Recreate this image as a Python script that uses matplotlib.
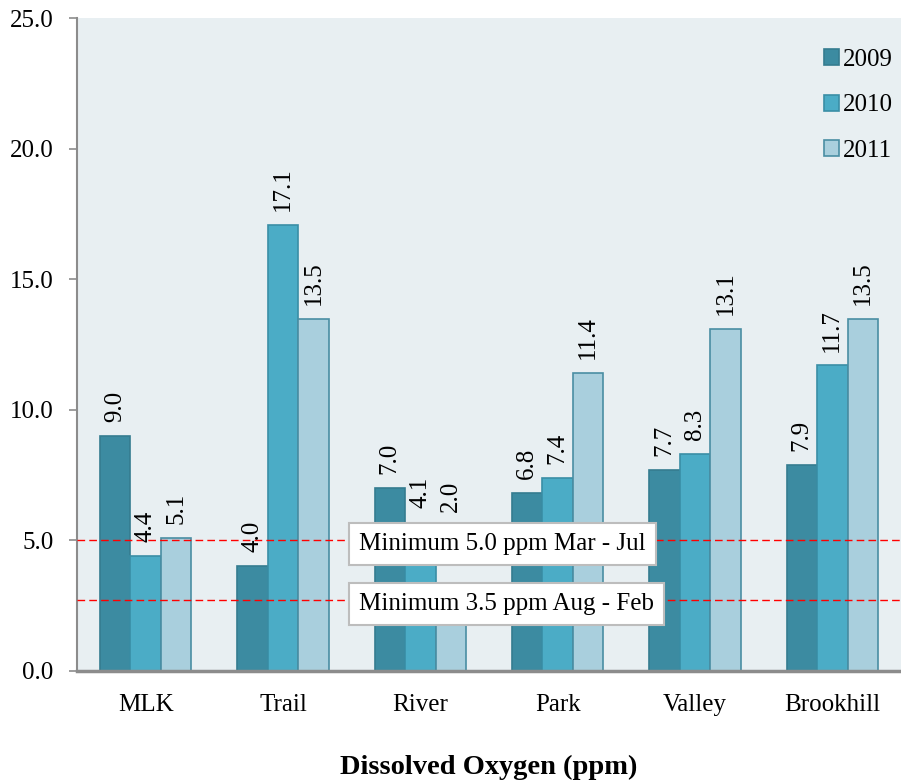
import numpy as np
import matplotlib
matplotlib.use("Agg")
import matplotlib.pyplot as plt

plt.rcParams['font.family'] = ['Liberation Serif', 'DejaVu Serif']

# data
sites = ['MLK', 'Trail', 'River', 'Park', 'Valley', 'Brookhill']
years = ['2009', '2010', '2011']
do_2009 = [9.0, 4.0, 7.0, 6.8, 7.7, 7.9]
do_2010 = [4.4, 17.1, 4.1, 7.4, 8.3, 11.7]
do_2011 = [5.1, 13.5, 2.0, 11.4, 13.1, 13.5]
series = [do_2009, do_2010, do_2011]

# reference lines as drawn, and their box texts
line_levels = [5.0, 2.7]
line_notes = ['Minimum 5.0 ppm Mar - Jul', 'Minimum 3.5 ppm Aug - Feb']

# styling / layout
face = ['#3C8BA1', '#4BACC6', '#A9CFDD']
edge = ['#357C90', '#3A8EA6', '#4A8EA3']
bg = '#E8EFF2'
spine_col = '#8C8C8C'
bar_w = 0.222
note_pos = [(2.598, 4.875), (2.627, 2.576)]
# labels lifted above the note boxes (site index, series index) -> y
lifted = {(2, 1): 6.25, (2, 2): 6.1}

fig = plt.figure(figsize=(9.01, 7.83), dpi=100)
ax = fig.add_axes([0.0855, 0.1434, 0.9145, 0.833])
ax.set_facecolor(bg)

x = np.arange(len(sites))
for k, vals in enumerate(series):
    pos = x + (k - 1) * bar_w
    ax.bar(pos, vals, width=bar_w, color=face[k], edgecolor=edge[k],
           linewidth=1.2, label=years[k], zorder=2)
    for i, v in enumerate(vals):
        if (i, k) in lifted:
            ax.text(pos[i], lifted[(i, k)], f'{v:.1f}', rotation=90,
                    ha='center', va='bottom', fontsize=18, zorder=5)
        else:
            ax.annotate(f'{v:.1f}', (pos[i], v), xytext=(0, 10),
                        textcoords='offset points', rotation=90,
                        ha='center', va='bottom', fontsize=18, zorder=5)

for lv in line_levels:
    ax.axhline(lv, color='#FF0000', lw=1.0, dashes=(5.5, 3), zorder=3)
for (nx, ny), note in zip(note_pos, line_notes):
    ax.text(nx, ny, note, ha='center', va='center', fontsize=18, zorder=6,
            bbox=dict(boxstyle='square,pad=0.4', fc='white', ec='#BDBDBD', lw=1.5))

ax.set_xlim(-0.5, len(sites) - 0.5)
ax.set_ylim(0, 25)
ax.set_yticks(np.arange(0, 25.1, 5))
ax.set_yticklabels([f'{t:.1f}' for t in np.arange(0, 25.1, 5)])
ax.set_xticks(x)
ax.set_xticklabels(sites)
ax.tick_params(axis='y', direction='out', length=6, width=1.2, color=spine_col,
               labelsize=18, pad=11)
ax.tick_params(axis='x', length=0, labelsize=18, pad=17)
for s in ['top', 'right']:
    ax.spines[s].set_visible(False)
ax.spines['left'].set_color(spine_col)
ax.spines['left'].set_linewidth(1.5)
ax.spines['bottom'].set_color(spine_col)
ax.spines['bottom'].set_linewidth(2.5)
ax.spines['bottom'].set_zorder(4)

ax.set_xlabel('Dissolved Oxygen (ppm)', fontsize=20.5, fontweight='bold', labelpad=28)

ax.legend(loc='upper right', bbox_to_anchor=(1.002, 0.969), frameon=False,
          fontsize=18, handlelength=0.6, handleheight=0.6, handletextpad=0.15,
          labelspacing=0.95, borderaxespad=0)

fig.savefig('out.png', dpi=100)
